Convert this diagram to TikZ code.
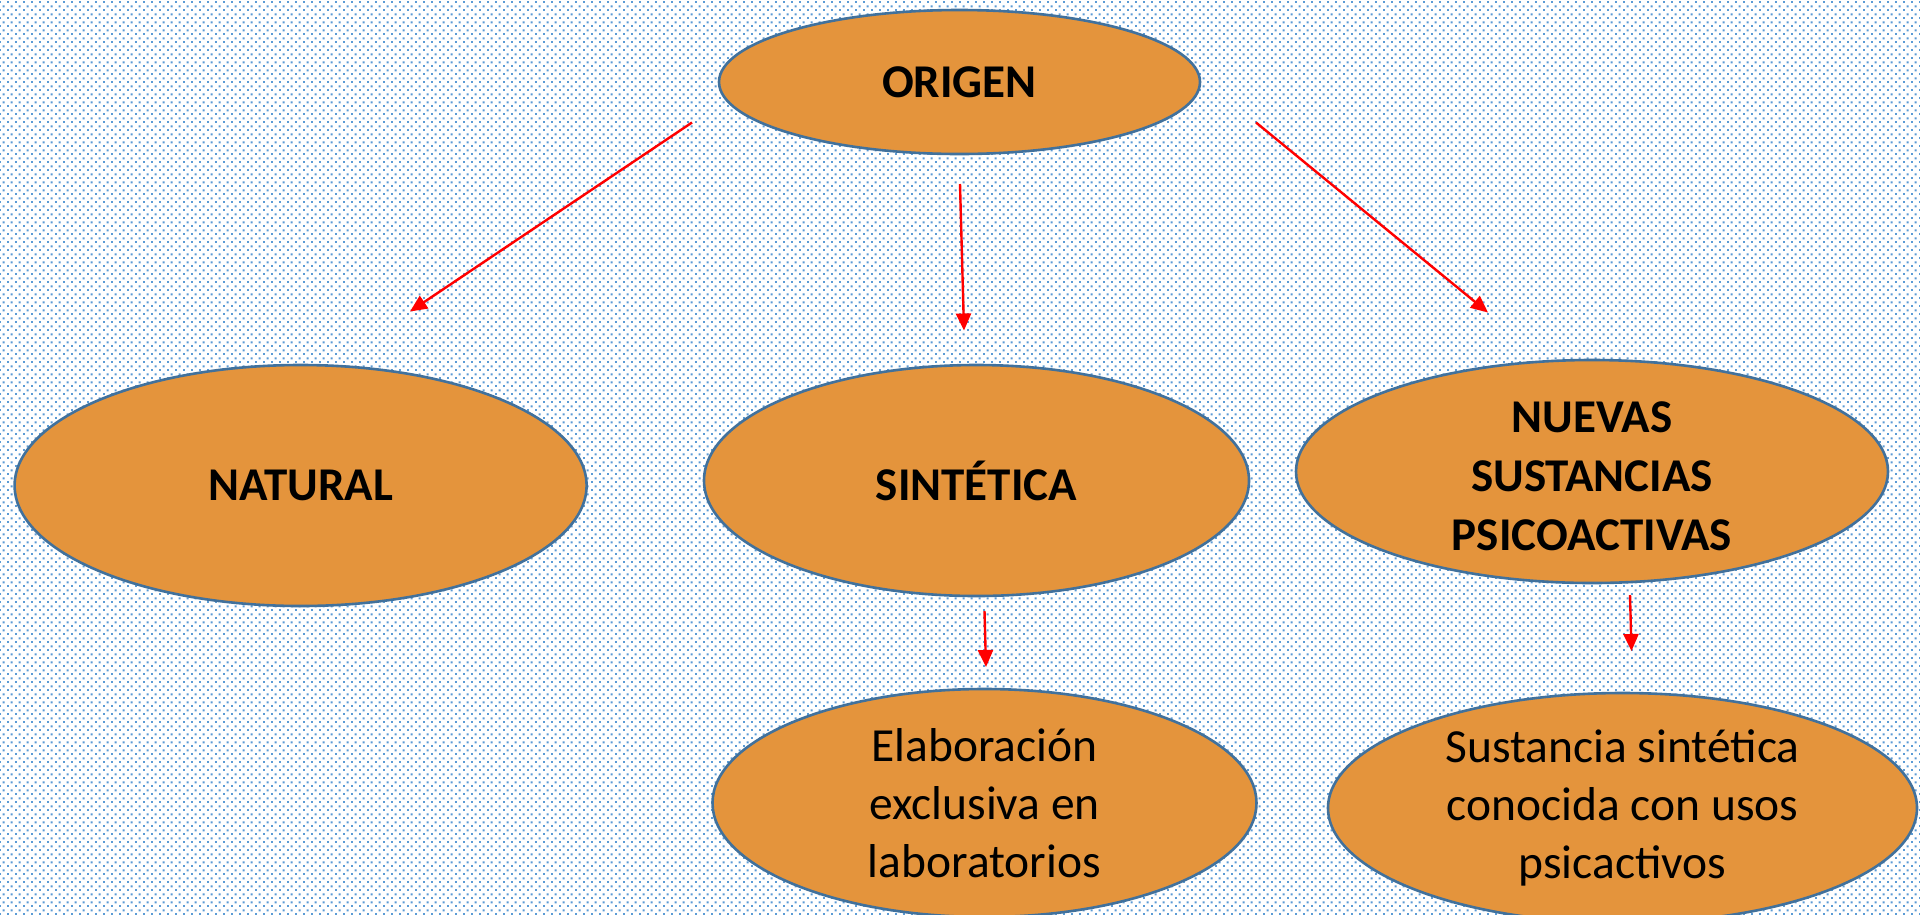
\documentclass[tikz,border=0pt]{standalone}
\usepackage{fontspec}
\setmainfont{Carlito}
\usetikzlibrary{shapes.geometric,arrows.meta,patterns}
\definecolor{dotblue}{RGB}{91,155,213}
\definecolor{ovalfill}{RGB}{228,148,60}
\definecolor{ovalline}{RGB}{65,113,156}
\pgfdeclarepatternformonly{bgdots}{\pgfpointorigin}{\pgfpoint{8pt}{8pt}}{\pgfpoint{8pt}{8pt}}{%
  \pgfpathrectangle{\pgfpoint{0pt}{0pt}}{\pgfpoint{2.2pt}{2.2pt}}%
  \pgfpathrectangle{\pgfpoint{4pt}{4pt}}{\pgfpoint{2.2pt}{2.2pt}}%
  \pgfusepath{fill}}
\tikzset{
  ovalshape/.style={ellipse, draw=ovalline, line width=2.6pt, fill=ovalfill, inner sep=0pt},
  txtreg/.style={align=center, inner sep=0pt, font=\fontsize{47.5}{58}\selectfont},
  txtbold/.style={txtreg, font=\fontsize{47}{59}\selectfont\bfseries},
  link/.style={draw=red, line width=2.4pt, -{Triangle[length=17pt,width=15pt,fill=red]}}
}
\begin{document}
\begin{tikzpicture}[x=1pt,y=-1pt]
\useasboundingbox (0,0) rectangle (1920,914);
\fill[white] (0,0) rectangle (1920,914);
\fill[pattern=bgdots, pattern color=dotblue] (0,0) rectangle (1920,914);

\node[ovalshape, minimum width=481pt, minimum height=144pt] (origen) at (959.5,82) {};
\node[txtbold] at (origen) {ORIGEN};

\node[ovalshape, minimum width=572pt, minimum height=241pt] (natural) at (300.6,485.5) {};
\node[txtbold] at (natural) {NATURAL};

\node[ovalshape, minimum width=545pt, minimum height=231pt] (sintetica) at (976.5,480.5) {};
\node[txtbold] at (sintetica) {SINTÉTICA};

\node[ovalshape, minimum width=592pt, minimum height=223pt] (nuevas) at (1592,471.5) {};
\node[txtbold] at ([yshift=-5pt]nuevas.center) {NUEVAS\\SUSTANCIAS\\PSICOACTIVAS};

\node[ovalshape, minimum width=544pt, minimum height=228pt] (elab) at (984.5,803) {};
\node[txtreg] at (elab) {Elaboración\\exclusiva en\\laboratorios};

\node[ovalshape, minimum width=589pt, minimum height=230pt] (sust) at (1622.5,808) {};
\node[txtreg] at (sust) {Sustancia sintética\\conocida con usos\\psicactivos};

\coordinate (a1s) at (692,122.5);  \coordinate (a1e) at (410,311.5);
\coordinate (a2s) at (960,184);    \coordinate (a2e) at (964,330.5);
\coordinate (a3s) at (1256,122.5); \coordinate (a3e) at (1488,312.5);
\coordinate (a4s) at (984.5,611);  \coordinate (a4e) at (986,667);
\coordinate (a5s) at (1630,595);   \coordinate (a5e) at (1631.5,651);

\draw[link] (a1s) -- (a1e);
\draw[link] (a2s) -- (a2e);
\draw[link] (a3s) -- (a3e);
\draw[link] (a4s) -- (a4e);
\draw[link] (a5s) -- (a5e);
\end{tikzpicture}
\end{document}
